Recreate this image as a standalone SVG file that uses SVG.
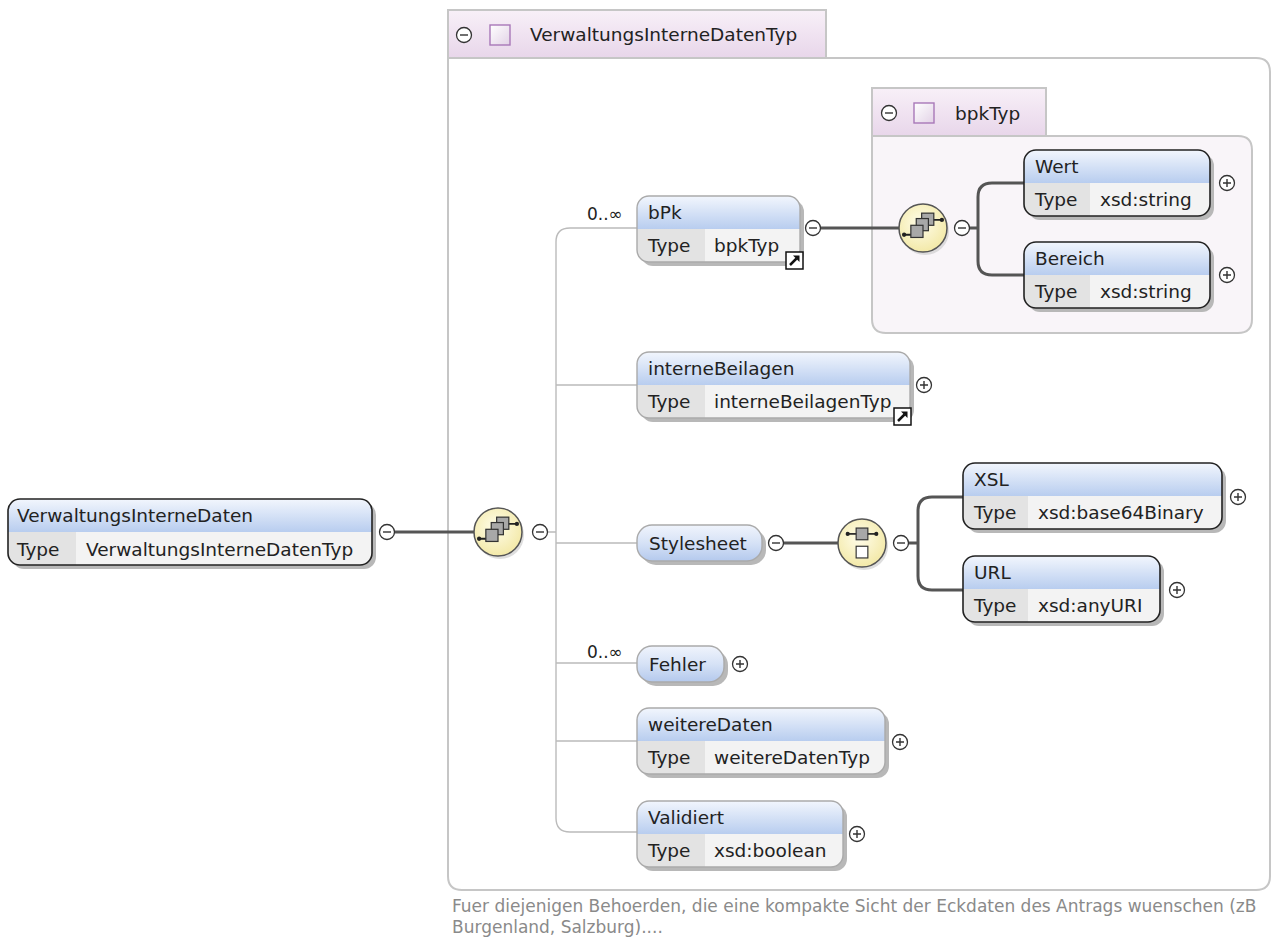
<svg xmlns="http://www.w3.org/2000/svg" width="1272" height="940" viewBox="0 0 1272 940">
<defs>
<linearGradient id="hdr" x1="0" y1="0" x2="0" y2="1"><stop offset="0" stop-color="#f2f6fd"/><stop offset="1" stop-color="#b8cdef"/></linearGradient>
<linearGradient id="pill" x1="0" y1="0" x2="0" y2="1"><stop offset="0" stop-color="#f0f4fc"/><stop offset="0.5" stop-color="#d6e2f6"/><stop offset="1" stop-color="#b4c9ed"/></linearGradient>
<linearGradient id="tab" x1="0" y1="0" x2="0" y2="1"><stop offset="0" stop-color="#f8f0f8"/><stop offset="1" stop-color="#e8d6ea"/></linearGradient>
<linearGradient id="sq" x1="0" y1="0" x2="1" y2="1"><stop offset="0" stop-color="#ffffff"/><stop offset="1" stop-color="#e2d2e6"/></linearGradient>
<radialGradient id="yel" cx="0.45" cy="0.4" r="0.6"><stop offset="0" stop-color="#fffdea"/><stop offset="1" stop-color="#f3e9a8"/></radialGradient>
<g id="plus"><circle r="7.5" fill="#fff" stroke="#333" stroke-width="1.3"/><path d="M-4 0H4M0 -4V4" stroke="#333" stroke-width="1.4"/></g>
<g id="minus"><circle r="7.5" fill="#fff" stroke="#333" stroke-width="1.3"/><path d="M-4 0H4" stroke="#333" stroke-width="1.4"/></g>
<g id="seq">
<circle cx="2" cy="3" r="24" fill="#c8c8c8" opacity="0.6"/>
<circle r="24" fill="url(#yel)" stroke="#555" stroke-width="1.5"/>
<g transform="scale(1.35)">
<path d="M-14 5H-8M6 -6H14" stroke="#222" stroke-width="1.3"/>
<circle cx="-14" cy="5" r="1.6" fill="#222"/><circle cx="14" cy="-6" r="1.6" fill="#222"/>
<rect x="-1" y="-11" width="9" height="9" fill="#a8a8a8" stroke="#333" stroke-width="0.9"/>
<rect x="-5" y="-7" width="9" height="9" fill="#a8a8a8" stroke="#333" stroke-width="0.9"/>
<rect x="-9" y="-2" width="9" height="9" fill="#a8a8a8" stroke="#333" stroke-width="0.9"/>
</g>
</g>
<g id="cho">
<circle cx="2" cy="3" r="24" fill="#c8c8c8" opacity="0.6"/>
<circle r="24" fill="url(#yel)" stroke="#555" stroke-width="1.5"/>
<g transform="scale(1.3)">
<path d="M-11 -7H11" stroke="#222" stroke-width="1.3"/>
<circle cx="-11" cy="-7" r="1.6" fill="#222"/><circle cx="11" cy="-7" r="1.6" fill="#222"/>
<rect x="-4.5" y="-11.5" width="9" height="9" fill="#a8a8a8" stroke="#333" stroke-width="0.9"/>
<rect x="-4.5" y="2.5" width="9" height="9" fill="#fff" stroke="#333" stroke-width="0.9"/>
</g>
</g>
<g id="link"><rect width="17" height="17" fill="#fff" stroke="#111" stroke-width="1.5"/><path d="M4 13L10.5 6.5" stroke="#111" stroke-width="2.5"/><path d="M7 3.5H13.5V10Z" fill="#111"/></g>
</defs>
<style>
text{font-family:"DejaVu Sans","Liberation Sans",sans-serif;fill:#222;font-size:18.5px}
.hd{fill:url(#hdr)}
.row{fill:#f3f3f3}
.col{fill:#e3e3e3}
.sh{fill:#b8b8b8}
.bd{fill:none;stroke:#222;stroke-width:1.6}
.bg{fill:none;stroke:#aaa;stroke-width:1.4}
.pill{fill:url(#pill);stroke:#aaa;stroke-width:1.4}
.tabr{fill:url(#tab);stroke:#c6c6c6;stroke-width:2}
.tsq{fill:url(#sq);stroke:#a878b8;stroke-width:1.4}
.thin{fill:none;stroke:#bbb;stroke-width:1.4}
.thick{fill:none;stroke:#555;stroke-width:3}
.card{font-size:17px}
.desc{fill:#8a8a8a;font-size:17px}
</style>

<g id="type-VerwaltungsInterneDatenTyp">
<path d="M448 58H1256Q1270 58 1270 72V876Q1270 890 1256 890H462Q448 890 448 876Z" fill="#fff" stroke="#c6c6c6" stroke-width="2"/>
<rect class="tabr" x="448" y="10" width="378" height="48"/>
<use href="#minus" x="464" y="35"/>
<rect class="tsq" x="490" y="25" width="20" height="20"/>
<text x="530" y="41">VerwaltungsInterneDatenTyp</text>
</g>

<g id="type-bpkTyp">
<path d="M872 136H1238Q1252 136 1252 150V319Q1252 333 1238 333H886Q872 333 872 319Z" fill="#f9f5f9" stroke="#c6c6c6" stroke-width="2"/>
<rect class="tabr" x="872" y="88" width="174" height="48"/>
<use href="#minus" x="889" y="113"/>
<rect class="tsq" x="914" y="103" width="20" height="20"/>
<text x="955" y="120">bpkTyp</text>
</g>

<g id="connectors">
<path class="thick" d="M394 532H475"/>
<path class="thin" d="M547 532H556M637 228H570Q556 228 556 242V818Q556 832 570 832H637M556 385H637M556 543H637M556 663H637M556 741H637"/>
<path class="thick" d="M820 228H899M969 228H978M1024 183H992Q978 183 978 197V261Q978 275 992 275H1024"/>
<path class="thick" d="M783 543H838M908 543H918M963 497H932Q918 497 918 511V576Q918 590 932 590H963"/>
</g>

<g id="n-VerwaltungsInterneDaten">
<rect class="sh" x="12" y="503" width="364" height="66" rx="12"/>
<path class="hd" d="M8 532V511A12 12 0 0 1 20 499H360A12 12 0 0 1 372 511V532Z"/>
<path class="row" d="M8 532H372V553A12 12 0 0 1 360 565H20A12 12 0 0 1 8 553Z"/>
<path class="col" d="M8 532H76V565H20A12 12 0 0 1 8 553Z"/>
<rect class="bd" x="8" y="499" width="364" height="66" rx="12"/>
<text x="17" y="522">VerwaltungsInterneDaten</text>
<text x="17" y="556">Type</text>
<text x="86" y="556">VerwaltungsInterneDatenTyp</text>
<use href="#minus" x="387" y="532"/>
</g>

<g id="n-seq1"><use href="#seq" x="498" y="532"/><use href="#minus" x="540" y="532"/></g>

<g id="n-bPk">
<rect class="sh" x="641" y="200" width="163" height="66" rx="12"/>
<path class="hd" d="M637 229V208A12 12 0 0 1 649 196H788A12 12 0 0 1 800 208V229Z"/>
<path class="row" d="M637 229H800V250A12 12 0 0 1 788 262H649A12 12 0 0 1 637 250Z"/>
<path class="col" d="M637 229H705V262H649A12 12 0 0 1 637 250Z"/>
<rect class="bg" x="637" y="196" width="163" height="66" rx="12"/>
<text x="648" y="219">bPk</text>
<text x="648" y="252">Type</text>
<text x="714" y="252">bpkTyp</text>
<use href="#link" x="786" y="252"/>
<text class="card" x="587" y="220">0..∞</text>
<use href="#minus" x="813" y="228"/>
</g>

<g id="n-seq2"><use href="#seq" x="923" y="228"/><use href="#minus" x="962" y="228"/></g>

<g id="n-Wert">
<rect class="sh" x="1028" y="154" width="186" height="66" rx="12"/>
<path class="hd" d="M1024 183V162A12 12 0 0 1 1036 150H1198A12 12 0 0 1 1210 162V183Z"/>
<path class="row" d="M1024 183H1210V204A12 12 0 0 1 1198 216H1036A12 12 0 0 1 1024 204Z"/>
<path class="col" d="M1024 183H1090V216H1036A12 12 0 0 1 1024 204Z"/>
<rect class="bd" x="1024" y="150" width="186" height="66" rx="12"/>
<text x="1035" y="173">Wert</text>
<text x="1035" y="206">Type</text>
<text x="1100" y="206">xsd:string</text>
<use href="#plus" x="1227" y="183"/>
</g>

<g id="n-Bereich">
<rect class="sh" x="1028" y="246" width="186" height="66" rx="12"/>
<path class="hd" d="M1024 275V254A12 12 0 0 1 1036 242H1198A12 12 0 0 1 1210 254V275Z"/>
<path class="row" d="M1024 275H1210V296A12 12 0 0 1 1198 308H1036A12 12 0 0 1 1024 296Z"/>
<path class="col" d="M1024 275H1090V308H1036A12 12 0 0 1 1024 296Z"/>
<rect class="bd" x="1024" y="242" width="186" height="66" rx="12"/>
<text x="1035" y="265">Bereich</text>
<text x="1035" y="298">Type</text>
<text x="1100" y="298">xsd:string</text>
<use href="#plus" x="1227" y="275"/>
</g>

<g id="n-interneBeilagen">
<rect class="sh" x="641" y="356" width="273" height="66" rx="12"/>
<path class="hd" d="M637 385V364A12 12 0 0 1 649 352H898A12 12 0 0 1 910 364V385Z"/>
<path class="row" d="M637 385H910V406A12 12 0 0 1 898 418H649A12 12 0 0 1 637 406Z"/>
<path class="col" d="M637 385H705V418H649A12 12 0 0 1 637 406Z"/>
<rect class="bg" x="637" y="352" width="273" height="66" rx="12"/>
<text x="648" y="375">interneBeilagen</text>
<text x="648" y="408">Type</text>
<text x="714" y="408">interneBeilagenTyp</text>
<use href="#link" x="894" y="408"/>
<use href="#plus" x="924" y="385"/>
</g>

<g id="n-Stylesheet">
<rect class="sh" x="641" y="529" width="125" height="36" rx="15"/>
<rect class="pill" x="637" y="525" width="125" height="36" rx="15"/>
<text x="649" y="550">Stylesheet</text>
<use href="#minus" x="776" y="543"/>
</g>

<g id="n-choice"><use href="#cho" x="862" y="543"/><use href="#minus" x="901" y="543"/></g>

<g id="n-XSL">
<rect class="sh" x="967" y="467" width="259" height="66" rx="12"/>
<path class="hd" d="M963 496V475A12 12 0 0 1 975 463H1210A12 12 0 0 1 1222 475V496Z"/>
<path class="row" d="M963 496H1222V517A12 12 0 0 1 1210 529H975A12 12 0 0 1 963 517Z"/>
<path class="col" d="M963 496H1028V529H975A12 12 0 0 1 963 517Z"/>
<rect class="bd" x="963" y="463" width="259" height="66" rx="12"/>
<text x="974" y="486">XSL</text>
<text x="974" y="519">Type</text>
<text x="1038" y="519">xsd:base64Binary</text>
<use href="#plus" x="1238" y="497"/>
</g>

<g id="n-URL">
<rect class="sh" x="967" y="560" width="197" height="66" rx="12"/>
<path class="hd" d="M963 589V568A12 12 0 0 1 975 556H1148A12 12 0 0 1 1160 568V589Z"/>
<path class="row" d="M963 589H1160V610A12 12 0 0 1 1148 622H975A12 12 0 0 1 963 610Z"/>
<path class="col" d="M963 589H1028V622H975A12 12 0 0 1 963 610Z"/>
<rect class="bd" x="963" y="556" width="197" height="66" rx="12"/>
<text x="974" y="579">URL</text>
<text x="974" y="612">Type</text>
<text x="1038" y="612">xsd:anyURI</text>
<use href="#plus" x="1177" y="590"/>
</g>

<g id="n-Fehler">
<rect class="sh" x="641" y="650" width="87" height="36" rx="15"/>
<rect class="pill" x="637" y="646" width="87" height="36" rx="15"/>
<text x="649" y="671">Fehler</text>
<text class="card" x="587" y="658">0..∞</text>
<use href="#plus" x="740" y="664"/>
</g>

<g id="n-weitereDaten">
<rect class="sh" x="641" y="712" width="248" height="66" rx="12"/>
<path class="hd" d="M637 741V720A12 12 0 0 1 649 708H873A12 12 0 0 1 885 720V741Z"/>
<path class="row" d="M637 741H885V762A12 12 0 0 1 873 774H649A12 12 0 0 1 637 762Z"/>
<path class="col" d="M637 741H705V774H649A12 12 0 0 1 637 762Z"/>
<rect class="bg" x="637" y="708" width="248" height="66" rx="12"/>
<text x="648" y="731">weitereDaten</text>
<text x="648" y="764">Type</text>
<text x="714" y="764">weitereDatenTyp</text>
<use href="#plus" x="900" y="742"/>
</g>

<g id="n-Validiert">
<rect class="sh" x="641" y="805" width="206" height="66" rx="12"/>
<path class="hd" d="M637 834V813A12 12 0 0 1 649 801H831A12 12 0 0 1 843 813V834Z"/>
<path class="row" d="M637 834H843V855A12 12 0 0 1 831 867H649A12 12 0 0 1 637 855Z"/>
<path class="col" d="M637 834H705V867H649A12 12 0 0 1 637 855Z"/>
<rect class="bg" x="637" y="801" width="206" height="66" rx="12"/>
<text x="648" y="824">Validiert</text>
<text x="648" y="857">Type</text>
<text x="714" y="857">xsd:boolean</text>
<use href="#plus" x="857" y="834"/>
</g>

<g id="description">
<text class="desc" x="452" y="912">Fuer diejenigen Behoerden, die eine kompakte Sicht der Eckdaten des Antrags wuenschen (zB</text>
<text class="desc" x="452" y="933">Burgenland, Salzburg)....</text>
</g>
</svg>
